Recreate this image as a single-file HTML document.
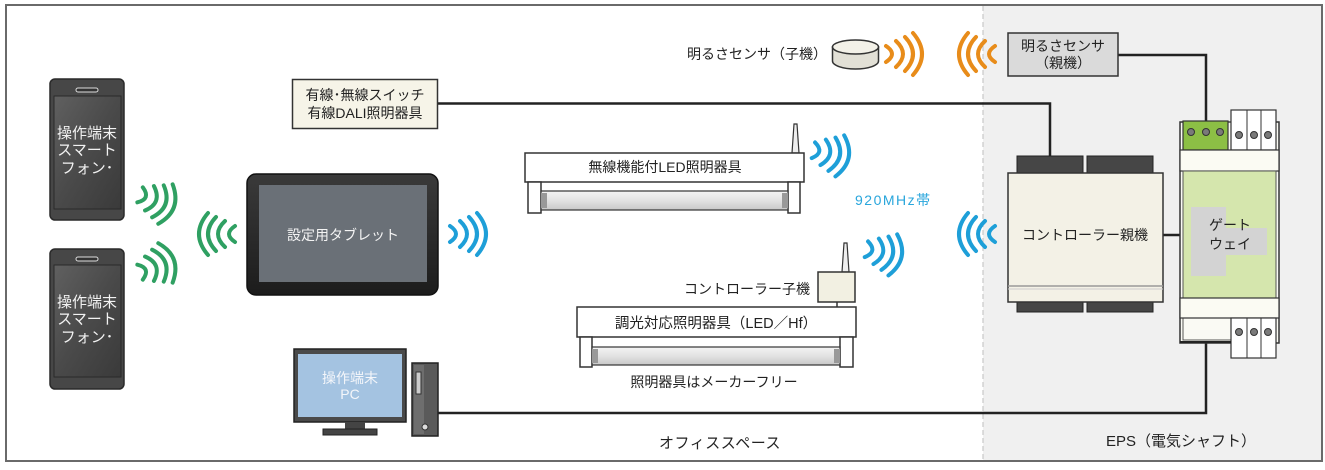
<!DOCTYPE html>
<html><head><meta charset="utf-8">
<style>
html,body{margin:0;padding:0;background:#fff;}
svg{display:block;}
text{font-family:"Liberation Sans","Noto Sans CJK JP",sans-serif;}
</style></head>
<body>
<svg width="1325" height="470" viewBox="0 0 1325 470" xmlns="http://www.w3.org/2000/svg">
<defs>
  <g id="wv" fill="none" stroke-width="4" stroke-linecap="round">
    <path d="M0,-8 Q12,0 0,8"/>
    <path d="M10,-13 Q24,0 10,13"/>
    <path d="M19,-17 Q35,0 19,17"/>
    <path d="M27,-21 Q45,0 27,21"/>
  </g>
  <linearGradient id="phoneScr" x1="0" y1="0" x2="1" y2="1">
    <stop offset="0" stop-color="#606060"/><stop offset="0.5" stop-color="#4a4a4a"/><stop offset="1" stop-color="#3a3a3a"/>
  </linearGradient>
  <linearGradient id="tube" x1="0" y1="0" x2="0" y2="1">
    <stop offset="0" stop-color="#f4f4f4"/><stop offset="0.5" stop-color="#e2e2e2"/><stop offset="1" stop-color="#c8c8c8"/>
  </linearGradient>
  <linearGradient id="tab" x1="0" y1="0" x2="0" y2="1">
    <stop offset="0" stop-color="#3a3a3a"/><stop offset="1" stop-color="#1c1c1c"/>
  </linearGradient>
</defs>

<!-- EPS region -->
<rect x="983" y="6" width="339" height="455" fill="#f0f0f0"/>
<line x1="983" y1="6" x2="983" y2="461" stroke="#c8c8c8" stroke-width="1.2" stroke-dasharray="5,3"/>
<!-- frame -->
<rect x="6" y="5" width="1316" height="456" fill="none" stroke="#6a6a6a" stroke-width="2"/>

<!-- wires -->
<g fill="none" stroke="#222" stroke-width="2.5">
  <polyline points="438,103.5 1050,103.5 1050,156"/>
  <polyline points="1118,55 1206,55 1206,121"/>
  <line x1="1163" y1="235" x2="1181" y2="235"/>
  <polyline points="438,413 1206,413 1206,343"/>
</g>

<!-- Phones -->
<g>
  <rect x="50" y="79" width="74" height="141" rx="5" fill="#474747" stroke="#2a2a2a" stroke-width="1.5"/>
  <rect x="54" y="96" width="67" height="113" fill="url(#phoneScr)" stroke="#2a2a2a" stroke-width="1"/>
  <rect x="76" y="88" width="22" height="4" rx="2" fill="#333" stroke="#ddd" stroke-width="1"/>
  <g fill="#f2f2f2" font-size="15" text-anchor="middle">
    <text x="87" y="138">操作端末</text>
    <text x="87" y="155">スマート</text>
    <text x="87" y="173">フォン･</text>
  </g>
</g>
<g>
  <rect x="50" y="249" width="74" height="140" rx="5" fill="#474747" stroke="#2a2a2a" stroke-width="1.5"/>
  <rect x="54" y="265" width="67" height="112" fill="url(#phoneScr)" stroke="#2a2a2a" stroke-width="1"/>
  <rect x="76" y="257" width="22" height="4" rx="2" fill="#333" stroke="#ddd" stroke-width="1"/>
  <g fill="#f2f2f2" font-size="15" text-anchor="middle">
    <text x="87" y="307">操作端末</text>
    <text x="87" y="324">スマート</text>
    <text x="87" y="342">フォン･</text>
  </g>
</g>

<!-- green waves -->
<g stroke="#2fa062">
  <use href="#wv" transform="translate(157,201) rotate(20) translate(-18,0)"/>
  <use href="#wv" transform="translate(157,266) rotate(-20) translate(-18,0)"/>
  <use href="#wv" transform="translate(217,234) scale(-1,1) translate(-18,0)"/>
</g>

<!-- Tablet -->
<rect x="247" y="174" width="191" height="121" rx="9" fill="url(#tab)" stroke="#111" stroke-width="1.5"/>
<rect x="259" y="185" width="168" height="97" fill="#6a7077"/>
<text x="343" y="240" fill="#f4f4f4" font-size="14" text-anchor="middle">設定用タブレット</text>

<!-- blue waves -->
<g stroke="#1e9fd8">
  <use href="#wv" transform="translate(468,234) translate(-18,0)"/>
  <use href="#wv" transform="translate(831,154) rotate(12) translate(-18,0)"/>
  <use href="#wv" transform="translate(884,253) rotate(12) translate(-18,0)"/>
  <use href="#wv" transform="translate(977,234) scale(-1,1) translate(-18,0)"/>
</g>
<!-- orange waves -->
<g stroke="#e88c1a">
  <use href="#wv" transform="translate(904,54) translate(-18,0)"/>
  <use href="#wv" transform="translate(977,54) scale(-1,1) translate(-18,0)"/>
</g>

<!-- wired switch box -->
<rect x="292.5" y="79.5" width="145" height="49" fill="#f6f4e8" stroke="#333" stroke-width="1.5"/>
<g font-size="14" fill="#222" text-anchor="middle">
  <text x="365" y="100">有線･無線スイッチ</text>
  <text x="365" y="118">有線DALI照明器具</text>
</g>

<!-- PC -->
<rect x="294" y="349" width="112" height="73" fill="#4a4a4a" stroke="#222" stroke-width="1.5"/>
<rect x="298" y="354" width="104" height="63" fill="#a4c3e1"/>
<g font-size="14" fill="#f4f6fa" text-anchor="middle">
  <text x="350" y="383">操作端末</text>
  <text x="350" y="399">PC</text>
</g>
<rect x="345" y="422" width="20" height="7" fill="#444"/>
<rect x="323" y="429" width="54" height="6" fill="#444" stroke="#222" stroke-width="1"/>
<rect x="412" y="363" width="26" height="73" fill="#5a5a5a" stroke="#222" stroke-width="1.5"/>
<rect x="414" y="365" width="10" height="69" fill="#6e6e6e"/>
<rect x="416" y="372" width="5" height="22" fill="#ccc" stroke="#333" stroke-width="1"/>
<circle cx="425" cy="427" r="3" fill="#ddd" stroke="#333" stroke-width="1"/>

<!-- sensor child -->
<text x="827" y="59" font-size="14" fill="#222" text-anchor="end">明るさセンサ（子機）</text>
<path d="M832.5,47 L832.5,61 A23,8 0 0 0 878.5,61 L878.5,47 Z" fill="#e2e0d6" stroke="#333" stroke-width="1.5"/>
<ellipse cx="855.5" cy="47" rx="23" ry="7" fill="#f3f1e8" stroke="#333" stroke-width="1.5"/>

<!-- wireless LED light -->
<polygon points="792,153 794,124 797,124 799,153" fill="#eee" stroke="#333" stroke-width="1.2"/>
<rect x="525" y="153" width="279" height="29" fill="#fff" stroke="#333" stroke-width="1.5"/>
<text x="665" y="172" font-size="14" fill="#222" text-anchor="middle">無線機能付LED照明器具</text>
<rect x="528" y="182" width="13" height="31" fill="#fff" stroke="#333" stroke-width="1.5"/>
<rect x="788" y="182" width="12" height="31" fill="#fff" stroke="#333" stroke-width="1.5"/>
<rect x="541" y="191" width="247" height="19" fill="url(#tube)" stroke="#333" stroke-width="1.2"/>
<rect x="541" y="193" width="6" height="15" fill="#999"/>
<rect x="782" y="193" width="6" height="15" fill="#999"/>
<text x="855" y="205" font-size="14" fill="#29a6dc" letter-spacing="1.5">920MHz帯</text>

<!-- dimming light -->
<polygon points="842,272 844,243 847,243 849,272" fill="#eee" stroke="#333" stroke-width="1.2"/>
<rect x="818" y="272" width="37" height="30" fill="#f2f0e2" stroke="#333" stroke-width="1.5"/>
<line x1="837" y1="302" x2="837" y2="307" stroke="#333" stroke-width="1.5"/>
<text x="810" y="294" font-size="14" fill="#222" text-anchor="end">コントローラー子機</text>
<rect x="577" y="307" width="279" height="30" fill="#fff" stroke="#333" stroke-width="1.5"/>
<text x="716" y="328" font-size="14.5" fill="#222" text-anchor="middle">調光対応照明器具（LED／Hf）</text>
<rect x="580" y="337" width="12" height="30" fill="#fff" stroke="#333" stroke-width="1.5"/>
<rect x="840" y="337" width="13" height="30" fill="#fff" stroke="#333" stroke-width="1.5"/>
<rect x="592" y="347" width="248" height="18" fill="url(#tube)" stroke="#333" stroke-width="1.2"/>
<rect x="592" y="349" width="6" height="14" fill="#999"/>
<rect x="834" y="349" width="6" height="14" fill="#999"/>
<text x="714" y="387" font-size="14" fill="#222" text-anchor="middle">照明器具はメーカーフリー</text>

<text x="720" y="448" font-size="15" fill="#222" text-anchor="middle" letter-spacing="0.5">オフィススペース</text>

<!-- sensor parent -->
<rect x="1008" y="33" width="110" height="43" fill="#dadada" stroke="#333" stroke-width="1.5"/>
<g font-size="14" fill="#222" text-anchor="middle">
  <text x="1063" y="51">明るさセンサ</text>
  <text x="1063" y="68">（親機）</text>
</g>

<!-- controller parent -->
<rect x="1017" y="156" width="66" height="17" fill="#464646" stroke="#222" stroke-width="1"/>
<rect x="1087" y="156" width="66" height="17" fill="#464646" stroke="#222" stroke-width="1"/>
<rect x="1017" y="302" width="66" height="10" fill="#464646" stroke="#222" stroke-width="1"/>
<rect x="1087" y="302" width="66" height="10" fill="#464646" stroke="#222" stroke-width="1"/>
<rect x="1008" y="173" width="155" height="129" fill="#f3f1e6" stroke="#333" stroke-width="1.5"/>
<line x1="1008" y1="286" x2="1163" y2="286" stroke="#999" stroke-width="1.5"/>
<line x1="1008" y1="289" x2="1163" y2="289" stroke="#ccc" stroke-width="1"/>
<text x="1085" y="240" font-size="14" fill="#222" text-anchor="middle">コントローラー親機</text>

<!-- gateway -->
<rect x="1180" y="122" width="99" height="221" fill="#fafaf4" stroke="#333" stroke-width="1.5"/>
<rect x="1183" y="122" width="93" height="218" fill="none" stroke="#555" stroke-width="1"/>
<rect x="1183" y="121" width="45" height="29" fill="#8cbf45" stroke="#333" stroke-width="1.2"/>
<g fill="#7a7a7a" stroke="#333" stroke-width="1">
  <circle cx="1191" cy="132" r="3.5"/><circle cx="1206" cy="132" r="3.5"/><circle cx="1220" cy="132" r="3.5"/>
</g>
<rect x="1231" y="110" width="45" height="40" fill="#fff" stroke="#333" stroke-width="1.2"/>
<line x1="1247" y1="110" x2="1247" y2="150" stroke="#333" stroke-width="1"/>
<line x1="1261" y1="110" x2="1261" y2="150" stroke="#333" stroke-width="1"/>
<g fill="#7a7a7a" stroke="#333" stroke-width="1">
  <circle cx="1239" cy="135" r="3.5"/><circle cx="1254" cy="135" r="3.5"/><circle cx="1268" cy="135" r="3.5"/>
</g>
<rect x="1180" y="150" width="99" height="21" fill="#fbfbf3" stroke="#333" stroke-width="1.2"/>
<rect x="1183" y="171" width="93" height="127" fill="#d5e6ad" stroke="#555" stroke-width="1"/>
<rect x="1191" y="207" width="35" height="69" fill="#d3d3d3"/>
<rect x="1226" y="228" width="41" height="27" fill="#d3d3d3"/>
<g font-size="14" fill="#222">
  <text x="1209" y="230">ゲート</text>
  <text x="1209" y="249">ウェイ</text>
</g>
<rect x="1180" y="298" width="99" height="20" fill="#fbfbf3" stroke="#333" stroke-width="1.2"/>
<rect x="1231" y="318" width="45" height="40" fill="#fff" stroke="#333" stroke-width="1.2"/>
<line x1="1247" y1="318" x2="1247" y2="358" stroke="#333" stroke-width="1"/>
<line x1="1261" y1="318" x2="1261" y2="358" stroke="#333" stroke-width="1"/>
<g fill="#7a7a7a" stroke="#333" stroke-width="1">
  <circle cx="1239" cy="332" r="3.5"/><circle cx="1254" cy="332" r="3.5"/><circle cx="1268" cy="332" r="3.5"/>
</g>
<line x1="1180" y1="342" x2="1231" y2="342" stroke="#222" stroke-width="2"/>

<text x="1181" y="446" font-size="15" fill="#222" text-anchor="middle">EPS（電気シャフト）</text>
</svg>
</body></html>
